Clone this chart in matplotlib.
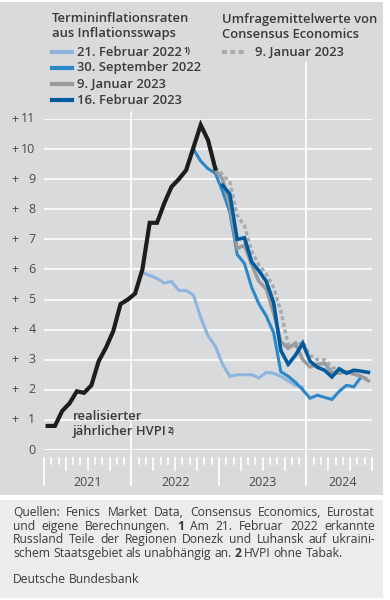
import matplotlib
matplotlib.use("Agg")
import matplotlib.pyplot as plt
from matplotlib.patches import Rectangle
from matplotlib.lines import Line2D

plt.rcParams['font.family'] = ['Open Sans', 'DejaVu Sans']

# months counted from January 2021 (0 = Jan 2021), values plotted mid-month
hvpi_start = 0
hvpi = [0.8, 0.8, 1.3, 1.55, 1.95, 1.9, 2.15, 2.95, 3.4, 3.95, 4.85, 5.0,
        5.2, 6.0, 7.55, 7.55, 8.2, 8.75, 9.0, 9.3, 10.05, 10.8, 10.3, 9.35]

swap_feb22_start = 13
swap_feb22 = [5.9, 5.8, 5.7, 5.55, 5.6, 5.3, 5.3, 5.15, 4.4, 3.8, 3.45, 2.85,
              2.45, 2.5, 2.5, 2.5, 2.4, 2.58, 2.55, 2.45, 2.3, 2.15, 2.08]

swap_sep22_start = 20
swap_sep22 = [10.0, 9.6, 9.35, 9.2, 8.6, 7.9, 6.5, 6.2, 5.4, 4.85, 4.45, 3.9,
              2.6, 2.45, 2.25, 2.0, 1.72, 1.82, 1.75, 1.68, 1.95, 2.15, 2.1, 2.42]

swap_jan23_start = 23
swap_jan23 = [9.3, 9.0, 8.1, 6.7, 6.8, 6.15, 5.6, 5.35, 4.55, 3.6, 3.38, 3.55,
              3.0, 2.76, 2.85, 2.88, 2.58, 2.55, 2.6, 2.52, 2.45, 2.3]

swap_feb23_start = 24
swap_feb23 = [8.8, 8.5, 7.0, 7.05, 6.25, 5.95, 5.6, 4.9, 3.3, 2.85, 3.15, 3.55,
              2.95, 2.75, 2.65, 2.43, 2.7, 2.55, 2.65, 2.62, 2.58]

consensus_start = 23
consensus = [9.4, 9.15, 8.9, 7.8, 7.45, 6.6, 6.15, 5.85, 5.4, 4.6, 3.5, 3.45,
             3.6, 3.15, 3.0, 3.0, 2.75, 2.65, 2.6, 2.55, 2.45, 2.35]

years = ["2021", "2022", "2023", "2024"]
year_pos = [6, 18, 30, 41]
yticks = list(range(0, 12))

W, H = 390, 600
BG = "#d9dadc"
BOX = "#ececec"
TXT = "#3a3a3a"
TICK = "#4a4a4a"
C_LIGHT = "#8db5de"
C_MID = "#2c87c9"
C_DARK = "#005b9e"
C_GRAY = "#999a9c"
C_DASH = "#a9aaac"
C_BLACK = "#1d1d1b"
LFS = 9.4   # legend font size
TFS = 9     # tick font size
FS = 8.7    # footnote font size


def fx(x):
    return x / W


def fy(y):
    return 1 - y / H


fig = plt.figure(figsize=(W / 100, H / 100), dpi=100)
fig.patch.set_facecolor("white")
fig.add_artist(Rectangle((0, fy(495)), fx(383), fy(2) - fy(495), transform=fig.transFigure,
                         facecolor=BG, edgecolor="none", zorder=-5))
fig.add_artist(Rectangle((0, fy(598)), fx(383), fy(500) - fy(598), transform=fig.transFigure,
                         facecolor=BOX, edgecolor="none", zorder=-5))

ax = fig.add_axes([fx(44), fy(450), fx(372) - fx(44), fy(119) - fy(450)])
ax.set_facecolor("none")
ax.set_xlim(0, 45)
ax.set_ylim(0, 11)
for s in ax.spines.values():
    s.set_visible(False)
ax.set_xticks([])
ax.set_yticks([])

u = 11 / (450 - 119)  # data units per pixel

# horizontal grid
for v in yticks:
    ax.axhline(v, color="white", lw=1.2, zorder=1)

# vertical lines at 2022 and 2024 reaching into the legend
ax.plot([12, 12], [-35 * u, (450 - 112) * u], color="white", lw=1.2, clip_on=False, zorder=1)
ax.plot([36, 36], [-35 * u, (450 - 63) * u], color="white", lw=1.2, clip_on=False, zorder=1)

# month ticks below the axis
for k in range(0, 46):
    if k % 12 == 0:
        ln = 35
    elif k % 3 == 0:
        ln = 20
    else:
        ln = 14
    ax.plot([k, k], [-8 * u, -ln * u], color="white", lw=1.2, clip_on=False, zorder=1)

for lab, p in zip(years, year_pos):
    ax.text(p, -33 * u, lab, ha="center", va="center", fontsize=TFS, color=TICK)

# y tick labels in figure pixels
for v in yticks:
    ypx = 450 - v / u
    fig.text(fx(35.5), fy(ypx), str(v), ha="right", va="center", fontsize=TFS, color=TICK)
    if v > 0:
        fig.text(fx(15), fy(ypx), "+", ha="center", va="center", fontsize=TFS, color=TICK)


def series(start, vals):
    return [start + i + 0.5 for i in range(len(vals))], vals


x, y = series(swap_feb22_start, swap_feb22)
ax.plot(x, y, color=C_LIGHT, lw=2.2, zorder=3, solid_joinstyle="miter")
x, y = series(swap_sep22_start, swap_sep22)
ax.plot(x, y, color=C_MID, lw=2.2, zorder=4, solid_joinstyle="miter")
x, y = series(consensus_start, consensus)
ax.plot(x, y, color=C_DASH, lw=2.4, ls=(0, (1.2, 0.8)), zorder=5)
x, y = series(swap_jan23_start, swap_jan23)
ax.plot(x, y, color=C_GRAY, lw=2.5, zorder=6, solid_joinstyle="miter")
x, y = series(swap_feb23_start, swap_feb23)
ax.plot(x, y, color=C_DARK, lw=2.6, zorder=7, solid_joinstyle="miter")
x, y = series(hvpi_start, hvpi)
ax.plot(x, y, color=C_BLACK, lw=3.0, zorder=8, solid_joinstyle="miter")

ax.text(3.9, (450 - 417) * u, "realisierter", fontsize=LFS, fontweight="semibold",
        color=TXT, va="center", ha="left", zorder=9)
t = ax.text(3.9, (450 - 432) * u, "jährlicher HVPI", fontsize=LFS, fontweight="semibold",
            color=TXT, va="center", ha="left", zorder=9)
ax.annotate("2)", xy=(1, 0.95), xycoords=t, xytext=(1.5, 0), textcoords="offset points",
            fontsize=5.5, fontweight="bold", color=TXT, va="top", ha="left")

# legend
fig.text(fx(52), fy(19), "Termininflationsraten", fontsize=LFS, fontweight="semibold",
         color=TXT, va="center")
fig.text(fx(52), fy(34), "aus Inflationsswaps", fontsize=LFS, fontweight="semibold",
         color=TXT, va="center")
leg = [("21. Februar 2022", C_LIGHT, 52), ("30. September 2022", C_MID, 68),
       ("9. Januar 2023", C_GRAY, 84), ("16. Februar 2023", C_DARK, 100)]
for lab, c, ypx in leg:
    fig.add_artist(Line2D([fx(52), fx(72)], [fy(ypx), fy(ypx)], color=c, lw=3.0,
                          transform=fig.transFigure))
    tt = fig.text(fx(77), fy(ypx), lab, fontsize=LFS, fontweight="semibold", color=TXT,
                  va="center")
    if lab.startswith("21."):
        ax.annotate("1)", xy=(1, 0.95), xycoords=tt, xytext=(1.5, 0),
                    textcoords="offset points", fontsize=5.5, fontweight="bold",
                    color=TXT, va="top", ha="left")

fig.text(fx(222), fy(19), "Umfragemittelwerte von", fontsize=LFS, fontweight="semibold",
         color=TXT, va="center")
fig.text(fx(222), fy(34), "Consensus Economics", fontsize=LFS, fontweight="semibold",
         color=TXT, va="center")
fig.add_artist(Line2D([fx(222), fx(245)], [fy(52), fy(52)], color=C_DASH, lw=3.0,
                      ls=(0, (1.2, 0.8)), transform=fig.transFigure))
fig.text(fx(255), fy(52), "9. Januar 2023", fontsize=LFS, fontweight="semibold", color=TXT,
         va="center")

# footnote, justified, words placed on a common baseline
renderer = fig.canvas.get_renderer()


def put_line(words, ypx, x0=13, x1=375, justify=True):
    arts = []
    for w in words:
        txt, bold = (w, False) if isinstance(w, str) else w
        arts.append(fig.text(0, fy(ypx + 4), txt, fontsize=FS, color=TXT, va="baseline",
                             fontweight="bold" if bold else "normal"))
    widths = [a.get_window_extent(renderer).width for a in arts]
    if justify:
        gap = (x1 - x0 - sum(widths)) / (len(arts) - 1)
    else:
        gap = 3.0
    xx = x0
    for a, wd in zip(arts, widths):
        a.set_x(fx(xx))
        xx += wd + gap


put_line("Quellen: Fenics Market Data, Consensus Economics, Eurostat".split(), 512)
put_line("und eigene Berechnungen.".split() + [("1", True)]
         + "Am 21. Februar 2022 erkannte".split(), 526)
put_line("Russland Teile der Regionen Donezk und Luhansk auf ukraini-".split(), 539)
put_line("schem Staatsgebiet als unabhängig an.".split() + [("2", True)]
         + "HVPI ohne Tabak.".split(), 553, justify=False)
put_line(["Deutsche", "Bundesbank"], 579, justify=False)

fig.savefig("out.png", dpi=100)
